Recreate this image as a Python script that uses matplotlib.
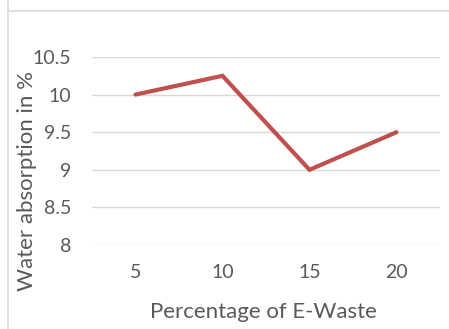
import matplotlib
matplotlib.use("Agg")
import matplotlib.pyplot as plt
from matplotlib.lines import Line2D

# water absorption vs. e-waste content
ewaste_pct = ["5", "10", "15", "20"]
absorption = [10.0, 10.25, 9.0, 9.5]
y_ticks = [8, 8.5, 9, 9.5, 10, 10.5]
y_tick_labels = ["8", "8.5", "9", "9.5", "10", "10.5"]

plt.rcParams["font.family"] = ["Lato", "DejaVu Sans"]

W, H = 449, 329
fig = plt.figure(figsize=(W / 100, H / 100), dpi=100)
ax = fig.add_axes([92 / W, 1 - 245 / H, (440 - 92) / W, (245 - 57) / H])

x = list(range(len(ewaste_pct)))
ax.plot(x, absorption, color="#C0504D", lw=3, solid_capstyle="round",
        solid_joinstyle="miter", zorder=3)

ax.set_xlim(-0.5, len(ewaste_pct) - 0.5)
ax.set_ylim(8, 10.5)
ax.set_xticks(x)
ax.set_xticklabels(ewaste_pct)
ax.set_yticks(y_ticks)
ax.set_yticklabels(y_tick_labels)
ax.tick_params(axis="both", length=0, colors="#595959", labelsize=14)
ax.tick_params(axis="y", pad=15)
ax.tick_params(axis="x", pad=14)
ax.yaxis.grid(True, color="#D9D9D9", lw=1)
ax.set_axisbelow(True)
for s in ax.spines.values():
    s.set_visible(False)

fig.text(27 / W, 1 - 181 / H, "Water absorption in %", rotation=90,
         ha="center", va="center", fontsize=16, color="#595959")
fig.text(263 / W, 1 - 312 / H, "Percentage of E-Waste",
         ha="center", va="center", fontsize=16, color="#595959")

# chart frame edges
fig.add_artist(Line2D([7.5 / W, 7.5 / W], [0, 1], color="#D9D9D9", lw=1.2))
fig.add_artist(Line2D([7.5 / W, 1], [1 - 10.5 / H, 1 - 10.5 / H],
                      color="#D9D9D9", lw=1.2))

fig.savefig("out.png", dpi=100)
